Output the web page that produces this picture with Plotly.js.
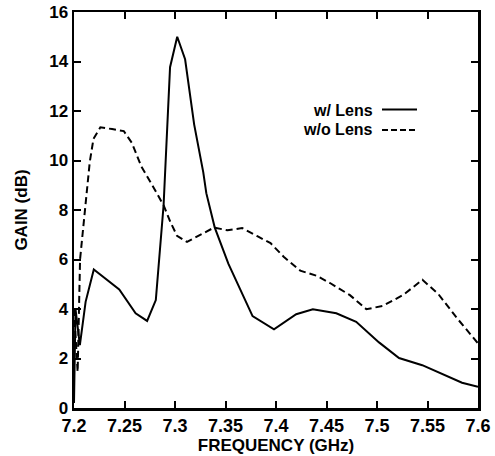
<!DOCTYPE html>
<html>
<head>
<meta charset="utf-8">
<script src="https://cdn.plot.ly/plotly-3.0.1.min.js"></script>
<style>html,body{margin:0;padding:0;background:#fff;}#chart{width:495px;height:456px;}</style>
</head>
<body>
<div id="chart"></div>
<script>
// Frequency (GHz) and gain (dB)
const lensFreq = [7.2, 7.2015, 7.2058, 7.2115, 7.2196, 7.2448, 7.261, 7.2724, 7.281, 7.2853, 7.2887, 7.2951, 7.3022, 7.310, 7.319, 7.328, 7.331, 7.3393, 7.348, 7.3528, 7.3768, 7.398, 7.42, 7.4365, 7.4597, 7.4794, 7.502, 7.5218, 7.5448, 7.5645, 7.5842, 7.6];
const lensGain = [0.2, 4.0, 2.54, 4.29, 5.6, 4.79, 3.83, 3.52, 4.36, 6.5, 8.19, 13.77, 15.0, 14.09, 11.45, 9.52, 8.68, 7.3, 6.31, 5.83, 3.71, 3.18, 3.79, 3.99, 3.83, 3.48, 2.65, 2.02, 1.73, 1.37, 1.02, 0.86];

const noLensFreq = [7.2, 7.2036, 7.206, 7.2095, 7.2156, 7.2193, 7.2261, 7.2377, 7.2493, 7.2573, 7.2668, 7.2765, 7.2887, 7.2956, 7.302, 7.3119, 7.3252, 7.3386, 7.352, 7.3665, 7.3815, 7.3946, 7.4076, 7.424, 7.4404, 7.4535, 7.4732, 7.4895, 7.506, 7.526, 7.545, 7.5606, 7.5788, 7.6];
const noLensGain = [4.0, 1.46, 6.0, 7.52, 9.94, 10.88, 11.34, 11.27, 11.19, 10.71, 9.75, 9.07, 8.19, 7.5, 6.96, 6.71, 7.0, 7.29, 7.18, 7.27, 6.94, 6.66, 6.11, 5.55, 5.34, 5.05, 4.56, 3.99, 4.13, 4.57, 5.18, 4.61, 3.65, 2.61];

const xTickVals = [7.2, 7.25, 7.3, 7.35, 7.4, 7.45, 7.5, 7.55, 7.6];
const xTickText = ['7.2', '7.25', '7.3', '7.35', '7.4', '7.45', '7.5', '7.55', '7.6'];
const yTickVals = [0, 2, 4, 6, 8, 10, 12, 14, 16];
const yTickText = ['0', '2', '4', '6', '8', '10', '12', '14', '16'];

const seriesNames = ['w/ Lens', 'w/o Lens'];

const FONT = 'Liberation Sans, Arial, Helvetica, sans-serif';

const traces = [
  {x: lensFreq, y: lensGain, name: seriesNames[0], type: 'scatter', mode: 'lines',
   line: {color: '#000', width: 2}},
  {x: noLensFreq, y: noLensGain, name: seriesNames[1], type: 'scatter', mode: 'lines',
   line: {color: '#000', width: 2, dash: '7px,4px'}}
];

const L = 74, R = 17, T = 12, B = 48, W = 495, H = 456;
const px = v => (v - L) / (W - L - R);
const py = v => (H - B - v) / (H - B - T);

const layout = {
  width: W, height: H,
  margin: {l: L, r: R, t: T, b: B, pad: 0},
  paper_bgcolor: '#fff', plot_bgcolor: '#fff',
  showlegend: false,
  font: {family: FONT, color: '#000', size: 17, weight: 'bold'},
  xaxis: {
    range: [7.2, 7.6], tickmode: 'array', tickvals: xTickVals, ticktext: xTickText,
    ticks: 'inside', ticklen: 7, tickwidth: 2, tickcolor: '#000',
    showline: true, linecolor: '#000', linewidth: 2.5, mirror: 'ticks',
    showgrid: false, zeroline: false,
    tickfont: {family: FONT, size: 18, weight: 'bold', color: '#000'},
    title: {text: 'FREQUENCY (GHz)', standoff: 0, font: {family: FONT, size: 17, weight: 'bold', color: '#000'}}
  },
  yaxis: {
    range: [0, 16], tickmode: 'array', tickvals: yTickVals, ticktext: yTickText,
    ticks: 'inside', ticklen: 7, tickwidth: 2, tickcolor: '#000',
    showline: true, linecolor: '#000', linewidth: 2.5, mirror: 'ticks',
    showgrid: false, zeroline: false,
    tickfont: {family: FONT, size: 17, weight: 'bold', color: '#000'},
    title: {text: 'GAIN (dB)', standoff: 17, font: {family: FONT, size: 17, weight: 'bold', color: '#000'}}
  },
  annotations: [
    {xref: 'paper', yref: 'paper', x: px(375), y: py(110), xanchor: 'right', yanchor: 'middle',
     text: seriesNames[0], showarrow: false, font: {family: FONT, size: 16, weight: 'bold', color: '#000'}},
    {xref: 'paper', yref: 'paper', x: px(375), y: py(129), xanchor: 'right', yanchor: 'middle',
     text: seriesNames[1], showarrow: false, font: {family: FONT, size: 16, weight: 'bold', color: '#000'}}
  ],
  shapes: [
    {type: 'line', xref: 'paper', yref: 'paper', x0: px(382), x1: px(417), y0: py(109.5), y1: py(109.5),
     line: {color: '#000', width: 2}},
    {type: 'line', xref: 'paper', yref: 'paper', x0: px(382), x1: px(417), y0: py(130), y1: py(130),
     line: {color: '#000', width: 2, dash: '6px,3px'}}
  ]
};

Plotly.newPlot('chart', traces, layout, {displayModeBar: false, staticPlot: true});
</script>
</body>
</html>
